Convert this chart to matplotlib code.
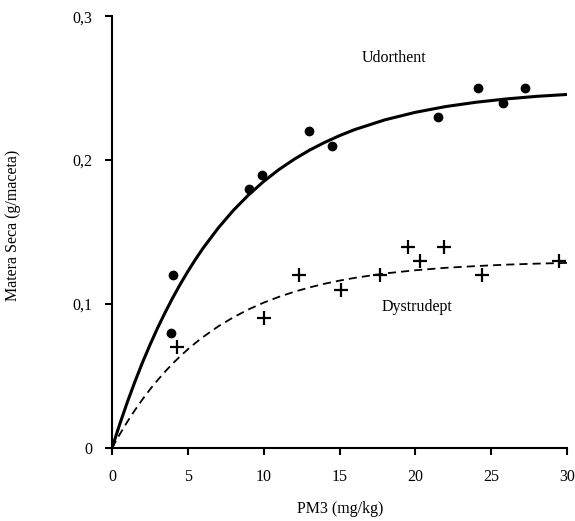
import matplotlib
matplotlib.use("Agg")
import matplotlib.pyplot as plt
from matplotlib.ticker import FixedLocator, FixedFormatter

plt.rcParams['font.family'] = ['Liberation Serif', 'DejaVu Serif']

# observed points
udo_x = [3.9, 4.0, 9.0, 9.9, 13.0, 14.5, 21.5, 24.1, 25.8, 27.2]
udo_y = [0.08, 0.12, 0.18, 0.19, 0.22, 0.21, 0.23, 0.25, 0.24, 0.25]
dys_x = [4.3, 10.0, 12.3, 15.1, 17.7, 19.5, 20.3, 21.9, 24.4, 29.5]
dys_y = [0.07, 0.09, 0.12, 0.11, 0.12, 0.14, 0.13, 0.14, 0.12, 0.13]

# fitted curves
curve_x = [0, 0.5, 1, 1.5, 2, 2.5, 3, 3.5, 4, 4.5, 5, 5.5, 6, 7, 8, 9, 10,
           11, 12, 13, 14, 15, 16, 18, 20, 22, 24, 26, 28, 30]
udo_fit = [0, 0.0163, 0.0316, 0.0458, 0.0592, 0.0716, 0.0833, 0.0941, 0.1043,
           0.1138, 0.1227, 0.1310, 0.1388, 0.1528, 0.1651, 0.1758, 0.1852,
           0.1934, 0.2005, 0.2068, 0.2122, 0.2170, 0.2212, 0.2280, 0.2332,
           0.2372, 0.2402, 0.2425, 0.2443, 0.2456]
dys_fit = [0, 0.0094, 0.0181, 0.0262, 0.0337, 0.0407, 0.0471, 0.0531, 0.0587,
           0.0638, 0.0686, 0.0730, 0.0771, 0.0845, 0.0908, 0.0963, 0.1010,
           0.1050, 0.1085, 0.1115, 0.1141, 0.1163, 0.1182, 0.1213, 0.1235,
           0.1252, 0.1264, 0.1274, 0.1281, 0.1286]

xticks = [0, 5, 10, 15, 20, 25, 30]
yticks = [0, 0.1, 0.2, 0.3]
ylabels = ["0", "0,1", "0,2", "0,3"]

fig = plt.figure(figsize=(5.75, 5.21), dpi=100)
ax = fig.add_axes([0.1948, 0.140, 0.7913, 0.829])

ax.plot(curve_x, udo_fit, color="black", lw=2.2, solid_capstyle="butt")
ax.plot(curve_x, dys_fit, color="black", lw=1.3, ls=(0, (4.5, 2.8)))
ax.plot(udo_x, udo_y, "o", color="black", ms=6, clip_on=False)
ax.plot(dys_x, dys_y, "+", color="black", ms=10, mew=1.6, clip_on=False)

ax.text(18.6, 0.271, "Udorthent", ha="center", va="center", fontsize=11.5)
ax.text(20.1, 0.0977, "Dystrudept", ha="center", va="center", fontsize=11.5)

ax.set_xlim(0, 30)
ax.set_ylim(0, 0.3)
ax.xaxis.set_major_locator(FixedLocator(xticks))
ax.xaxis.set_major_formatter(FixedFormatter([str(v) for v in xticks]))
ax.yaxis.set_major_locator(FixedLocator(yticks))
ax.yaxis.set_major_formatter(FixedFormatter(ylabels))

for s in ["top", "right"]:
    ax.spines[s].set_visible(False)
for s in ["left", "bottom"]:
    ax.spines[s].set_linewidth(1.5)
ax.tick_params(axis="x", direction="out", length=5, width=1.5, pad=10, labelsize=11.5)
ax.tick_params(axis="y", direction="out", length=5, width=1.5, pad=9, labelsize=11.5)

fig.text(340 / 575, 1 - 509 / 521, "PM3 (mg/kg)", ha="center", va="center", fontsize=11.5)
fig.text(13 / 575, 1 - 225 / 521, "Matera Seca (g/maceta)", ha="center", va="center",
         rotation=90, fontsize=11.5)

fig.savefig("out.png", dpi=100)
